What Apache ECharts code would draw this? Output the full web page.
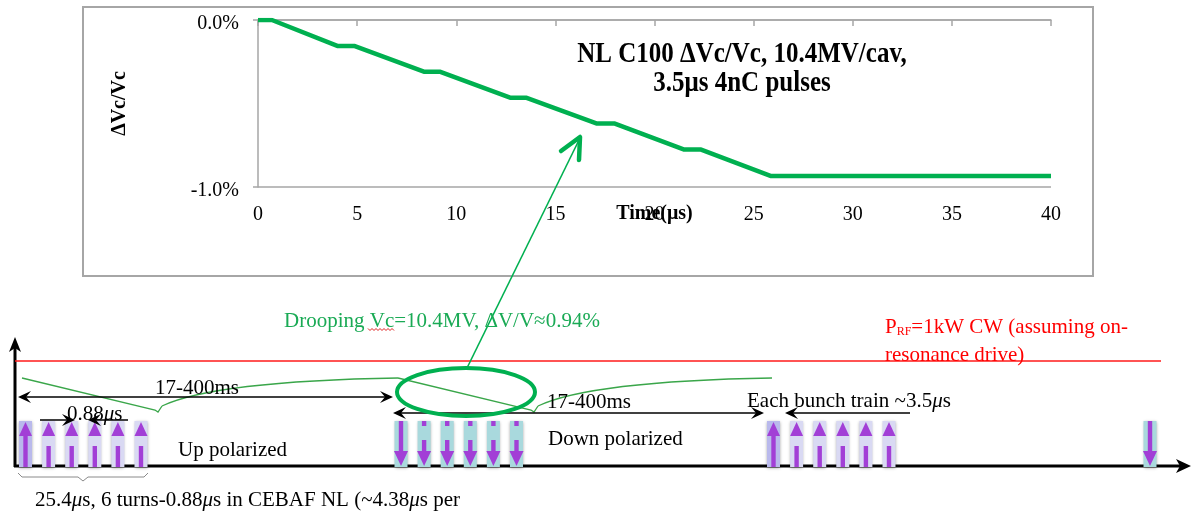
<!DOCTYPE html>
<html><head><meta charset="utf-8">
<script src="https://cdn.jsdelivr.net/npm/echarts@6/dist/echarts.min.js"></script>
<style>html,body{margin:0;padding:0;background:#fff}#c{width:1192px;height:515px}</style>
</head><body><div id="c"></div>
<script>
// ---- top chart data ----
const timeUs = [0, 0.7, 4.0, 4.85, 8.4, 9.2, 12.75, 13.55, 17.1, 18.0, 21.5, 22.35, 25.85, 40];
const dVcPct = [0, 0, -0.155, -0.155, -0.31, -0.31, -0.466, -0.466, -0.62, -0.62, -0.776, -0.776, -0.934, -0.934];
const xTickValues = [0, 5, 10, 15, 20, 25, 30, 35, 40];
const yTickValues = [-1, 0];
// ---- schematic (bottom) data: bunch trains on a schematic time axis ----
const trainStart = [25.5, 401, 773.5, 1150];
const trainPolarity = ['up', 'down', 'up', 'down'];
const trainBunchCount = [6, 6, 6, 1];
const bunchSpacing = 23.1;

const SERIF = 'Liberation Serif';
const GREEN = '#00b050';
const PURPLE = '#a23fd6';

const bunchData = [];
trainStart.forEach((s, t) => {
  for (let i = 0; i < trainBunchCount[t]; i++) {
    bunchData.push([s + i * bunchSpacing, trainPolarity[t] === 'up' ? 1 : 0, i === 0 ? 1 : 0]);
  }
});

function renderBunch(params, api) {
  const x = api.value(0), up = api.value(1) === 1, first = api.value(2) === 1;
  const p = api.coord([x, 421]);
  const cx = p[0], top = p[1], bot = api.coord([x, 467])[1];
  const ch = [];
  ch.push({type: 'rect', shape: {x: cx - 6.5, y: top, width: 13, height: bot - top},
    style: {fill: up ? (first ? '#b9b9ec' : '#d9d9f3') : '#a9d9dd', shadowBlur: 3, shadowColor: 'rgba(0,0,0,0.35)', shadowOffsetY: 1}});
  if (up) {
    ch.push({type: 'polygon', shape: {points: [[cx, top + 1], [cx + 6.5, top + 15], [cx - 6.5, top + 15]]}, style: {fill: PURPLE}});
    const s0 = first ? top + 14 : top + 25;
    ch.push({type: 'rect', shape: {x: cx - 2.2, y: s0, width: 4.4, height: bot - s0}, style: {fill: PURPLE}});
  } else {
    if (!first) ch.push({type: 'rect', shape: {x: cx - 2.2, y: top, width: 4.4, height: 5}, style: {fill: PURPLE}});
    const s0 = first ? top : top + 19;
    ch.push({type: 'rect', shape: {x: cx - 2.2, y: s0, width: 4.4, height: bot - 15 - s0}, style: {fill: PURPLE}});
    ch.push({type: 'polygon', shape: {points: [[cx - 7, bot - 16], [cx + 7, bot - 16], [cx, bot - 1]]}, style: {fill: PURPLE}});
  }
  return {type: 'group', children: ch};
}

function head(x, y, dir, color, len, half) {
  len = len || 13; half = half || 6;
  const d = dir; // +1 right, -1 left
  return {type: 'polygon', shape: {points: [[x, y], [x - d * len, y - half], [x - d * (len - 5), y], [x - d * len, y + half]]},
    style: {fill: color || '#000'}, z: 20};
}
function hline(x1, x2, y, color, w) {
  return {type: 'line', shape: {x1: x1, y1: y, x2: x2, y2: y}, style: {stroke: color || '#000', lineWidth: w || 1.5}, z: 20};
}
function txt(x, y, text, color, extra) {
  return Object.assign({type: 'text', z: 30, style: Object.assign({x: x, y: y, text: text, fill: color || '#000',
    font: '21px "' + SERIF + '"', textAlign: 'left', textVerticalAlign: 'middle',
    rich: {i: {fontStyle: 'italic', fontFamily: SERIF, fontSize: 21, fill: color || '#000'},
           sub: {fontFamily: SERIF, fontSize: 12, fill: color || '#000', verticalAlign: 'bottom'}}}, extra || {})});
}
function titleTxt(y, text) {
  return {type: 'text', z: 30, x: 742, y: y, scaleY: 1.15,
    style: {x: 0, y: 0, text: text, font: 'bold 25px "' + SERIF + '"', fill: '#000', textAlign: 'center', textVerticalAlign: 'middle'}};
}

// red squiggle under "Vc"
const squig = [];
for (let i = 0; i <= 13; i++) squig.push([368 + i * 2, 329 + (i % 2 ? 1.5 : -0.5)]);

const graphics = [
  {type: 'rect', shape: {x: 83, y: 7, width: 1010, height: 269}, style: {fill: 'none', stroke: '#a6a6a6', lineWidth: 2}, z: 1},
  titleTxt(55, 'NL C100 ΔVc/Vc, 10.4MV/cav,'),
  titleTxt(84, '3.5μs 4nC pulses'),
  // schematic axes
  {type: 'line', shape: {x1: 15, y1: 467, x2: 15, y2: 346}, style: {stroke: '#000', lineWidth: 3}, z: 20},
  {type: 'polygon', shape: {points: [[15, 337], [9, 352], [15, 348], [21, 352]]}, style: {fill: '#000'}, z: 20},
  {type: 'line', shape: {x1: 14, y1: 466, x2: 1180, y2: 466}, style: {stroke: '#000', lineWidth: 3}, z: 5},
  {type: 'polygon', shape: {points: [[1191, 466], [1176, 459], [1180, 466], [1176, 473]]}, style: {fill: '#000'}, z: 20},
  // red power line
  hline(15, 1161, 361, '#ff1a1a', 1.5),
  // drooping voltage curves
  {type: 'polyline', shape: {points: [[22, 378], [155, 410], [158, 412], [162, 406]]}, style: {stroke: '#3aa64a', lineWidth: 1.3, fill: 'none'}, z: 18},
  {type: 'bezierCurve', shape: {x1: 162, y1: 406, cpx1: 200, cpy1: 388, cpx2: 280, cpy2: 380, x2: 398, y2: 378}, style: {stroke: '#3aa64a', lineWidth: 1.3, fill: 'none'}, z: 18},
  {type: 'polyline', shape: {points: [[398, 378], [531, 410], [534, 412], [538, 406]]}, style: {stroke: '#3aa64a', lineWidth: 1.3, fill: 'none'}, z: 18},
  {type: 'bezierCurve', shape: {x1: 538, y1: 406, cpx1: 576, cpy1: 388, cpx2: 656, cpy2: 380, x2: 772, y2: 378}, style: {stroke: '#3aa64a', lineWidth: 1.3, fill: 'none'}, z: 18},
  // ellipse + arrow to chart
  {type: 'ellipse', shape: {cx: 466, cy: 392, rx: 69, ry: 24}, style: {fill: 'none', stroke: GREEN, lineWidth: 4}, z: 22},
  {type: 'line', shape: {x1: 467, y1: 368, x2: 580, y2: 138}, style: {stroke: GREEN, lineWidth: 1.6}, z: 22},
  {type: 'polyline', shape: {points: [[561, 151], [580, 137], [579, 160]]}, style: {stroke: GREEN, lineWidth: 4.5, fill: 'none', lineCap: 'round', lineJoin: 'round'}, z: 22},
  // black dimension arrows
  hline(24, 387, 397), head(18, 397, -1), head(393, 397, 1),
  hline(399, 758, 413), head(393, 413, -1), head(764, 413, 1),
  hline(790, 910, 413), head(785, 413, -1),
  hline(40, 70, 420), head(75, 420, 1), hline(93, 128, 420), head(88, 420, -1),
  // brace under first train
  {type: 'polyline', shape: {points: [[18, 473], [22, 477], [78, 477], [83, 481], [88, 477], [144, 477], [148, 473]]}, style: {stroke: '#8a8a8a', lineWidth: 1, fill: 'none'}, z: 20},
  // texts
  txt(284, 321, 'Drooping Vc=10.4MV, ΔV/V≈0.94%', '#1aaa55'),
  {type: 'polyline', shape: {points: squig}, style: {stroke: '#e02020', lineWidth: 1, fill: 'none'}, z: 31},
  txt(885, 327, 'P{sub|RF}=1kW CW (assuming on-', '#ff0000'),
  txt(885, 355, 'resonance drive)', '#ff0000'),
  txt(155, 388, '17-400ms'),
  txt(547, 402, '17-400ms'),
  txt(747, 401, 'Each bunch train ~3.5{i|μ}s'),
  txt(67, 414, '0.88{i|μ}s'),
  txt(178, 450, 'Up polarized'),
  txt(548, 439, 'Down polarized'),
  txt(35, 500, '25.4{i|μ}s, 6 turns-0.88{i|μ}s in CEBAF NL (~4.38{i|μ}s per')
];

const chart = echarts.init(document.getElementById('c'), null, {renderer: 'canvas'});
const gray = '#a6a6a6';
chart.setOption({
  animation: false,
  backgroundColor: '#fff',
  grid: [
    {left: 258, top: 20, width: 793, height: 167},
    {left: 0, top: 0, width: 1192, height: 515}
  ],
  xAxis: [
    {type: 'value', gridIndex: 0, min: xTickValues[0], max: xTickValues[xTickValues.length - 1], interval: xTickValues[1] - xTickValues[0],
      axisLine: {lineStyle: {color: gray, width: 1.5}}, axisTick: {length: 6, lineStyle: {color: gray, width: 1.5}},
      axisLabel: {fontFamily: SERIF, fontSize: 20, color: '#000', margin: 18}, splitLine: {show: false},
      name: 'Time(μs)', nameLocation: 'middle', nameGap: 17, nameMoveOverlap: false,
      nameTextStyle: {fontFamily: SERIF, fontSize: 20, fontWeight: 'bold', color: '#000'}},
    {type: 'value', gridIndex: 1, min: 0, max: 1192, show: false}
  ],
  yAxis: [
    {type: 'value', gridIndex: 0, min: yTickValues[0], max: yTickValues[yTickValues.length - 1], interval: yTickValues[1] - yTickValues[0],
      axisLine: {show: true, lineStyle: {color: gray, width: 1.5}}, axisTick: {show: true, length: 5, lineStyle: {color: gray, width: 1.5}},
      axisLabel: {fontFamily: SERIF, fontSize: 20, color: '#000', margin: 19, verticalAlign: 'top', lineHeight: 7, formatter: v => v.toFixed(1) + '%'},
      splitLine: {show: true, lineStyle: {color: gray, width: 1.5}},
      name: 'ΔVc/Vc', nameLocation: 'middle', nameRotate: 90, nameGap: 128,
      nameTextStyle: {fontFamily: SERIF, fontSize: 20, fontWeight: 'bold', color: '#000'}},
    {type: 'value', gridIndex: 1, min: 0, max: 515, inverse: true, show: false}
  ],
  series: [
    {type: 'line', xAxisIndex: 0, yAxisIndex: 0, data: timeUs.map((t, i) => [t, dVcPct[i]]),
      symbol: 'none', lineStyle: {color: GREEN, width: 4.5}, z: 5},
    {type: 'custom', xAxisIndex: 1, yAxisIndex: 1, data: bunchData, renderItem: renderBunch, z: 10, silent: true}
  ],
  graphic: graphics
});
</script>
</body></html>
